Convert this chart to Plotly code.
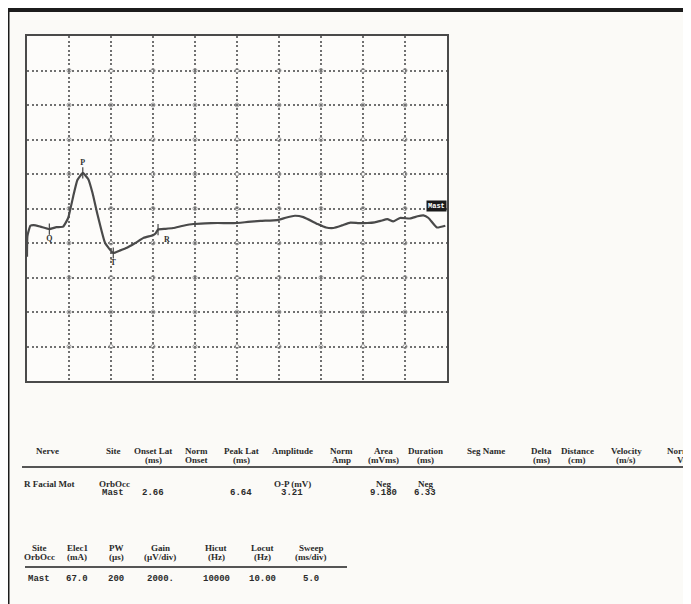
import plotly.graph_objects as go

# ---------------- data ----------------
# waveform: time (ms) and amplitude (mV); sweep 5 ms/div, gain 2 mV/div
t_ms = [0.0, 0.05, 0.4, 0.8, 1.6, 2.66, 3.5, 4.3, 4.9, 5.5, 6.0, 6.64, 7.3, 7.8,
        8.35, 9.3, 10.27, 11.0, 11.9, 12.9, 13.9, 15.0, 15.3, 15.6, 16.5, 17.4,
        18.6, 19.8, 21.2, 22.7, 24.6, 26.3, 27.8, 29.8, 30.9, 31.9, 32.9, 34.6,
        35.6, 36.5, 37.5, 38.5, 39.5, 40.5, 41.4, 42.1, 42.9, 43.6, 44.4, 45.6,
        46.5, 47.2, 47.8, 48.8, 49.8]
amp_mv = [-2.8, -1.6, -1.0, -0.96, -1.05, -1.19, -1.08, -1.05, -0.55, 0.7, 1.65,
          2.06, 1.7, 0.9, -0.26, -2.0, -2.58, -2.45, -2.28, -2.0, -1.7, -1.55,
          -1.45, -1.22, -1.18, -1.13, -1.0, -0.9, -0.86, -0.84, -0.85, -0.78,
          -0.72, -0.67, -0.52, -0.42, -0.5, -0.9, -1.1, -1.13, -0.98, -0.82,
          -0.85, -0.84, -0.8, -0.72, -0.62, -0.75, -0.55, -0.58, -0.45, -0.4,
          -0.55, -1.1, -1.0]

marker_names = ["Q", "P", "T", "R"]
marker_t = [2.66, 6.64, 10.27, 15.6]
marker_v = [-1.19, 2.06, -2.58, -1.22]

# table 1
t1_headers = [("Nerve", ""), ("Site", ""), ("Onset Lat", "(ms)"), ("Norm", "Onset"),
              ("Peak Lat", "(ms)"), ("Amplitude", ""), ("Norm", "Amp"),
              ("Area", "(mVms)"), ("Duration", "(ms)"), ("Seg Name", ""),
              ("Delta", "(ms)"), ("Distance", "(cm)"), ("Velocity", "(m/s)"),
              ("Norm", "Vel")]
t1_row1 = ["R Facial Mot", "OrbOcc", "", "", "", "O-P (mV)", "", "Neg", "Neg"]
t1_row2 = ["", "Mast", "2.66", "", "6.64", "3.21", "", "9.180", "6.33"]

# table 2
t2_headers = [("Site", "OrbOcc"), ("Elec1", "(mA)"), ("PW", "(µs)"),
              ("Gain", "(µV/div)"), ("Hicut", "(Hz)"), ("Locut", "(Hz)"),
              ("Sweep", "(ms/div)")]
t2_row = ["Mast", "67.0", "200", "2000.", "10000", "10.00", "5.0"]

# ---------------- layout helpers ----------------
OFF = 8                      # page body margin
W, H = 691 - OFF, 604 - OFF
L, R, T, B = 27, 447, 36, 381  # plot box in page pixels


def px(x, y):
    return (x - L) / (R - L), 1 - (y - T) / (B - T)


fig = go.Figure()

# grid intersection circles
gx = [5 * i for i in range(1, 10)]
gy = [-8 + 2 * j for j in range(9)]
fig.add_trace(go.Scatter(
    x=[a for a in gx for b in gy], y=[b for a in gx for b in gy],
    mode="markers", hoverinfo="skip",
    marker=dict(symbol="circle-open", size=4, color="#999", line=dict(width=1))))

fig.add_trace(go.Scatter(x=t_ms, y=amp_mv, mode="lines",
                         line=dict(color="#4a4a4a", width=2.2, shape="spline", smoothing=0.4),
                         hoverinfo="skip"))

fig.add_trace(go.Scatter(
    x=marker_t, y=marker_v, mode="markers+text",
    text=["<b>%s</b>" % s for s in marker_names],
    textposition=["bottom center", "top center", "bottom center", "bottom right"],
    textfont=dict(family="Liberation Serif", size=8, color="#333"),
    marker=dict(symbol="line-ns", size=8, color="#444", line=dict(width=1.2, color="#444")),
    hoverinfo="skip"))

ann = []
ann.append(dict(x=50, y=0.15, xref="x", yref="y", xanchor="right", yanchor="middle",
                text="<b>Mast</b>", showarrow=False, bgcolor="#1a1a1a",
                font=dict(family="Liberation Mono", size=7, color="white"), borderpad=1))

serif = dict(family="Liberation Serif", size=9, color="#2a2a2a")
mono = dict(family="Liberation Mono", size=9, color="#2a2a2a")


def text(x, y, s, font, anchor="center"):
    xp, yp = px(x, y)
    ann.append(dict(x=xp, y=yp, xref="paper", yref="paper", text=s, showarrow=False,
                    xanchor=anchor, yanchor="middle", font=font))


# table 1 geometry
t1_x = [47, 113, 153, 196, 241, 292, 341, 383, 425, 486, 541, 577, 626, 0]
h1_y, h2_y, rule1_y, r1_y, r2_y = 451, 460, 467, 484, 493
for i, ((a, b), x) in enumerate(zip(t1_headers, t1_x)):
    if i == len(t1_headers) - 1:
        text(692, h1_y, "<b>%s</b>" % a, serif, "right")
        text(692, h2_y, "<b>%s</b>" % b, serif, "right")
        continue
    text(x, h1_y, "<b>%s</b>" % a, serif)
    if b:
        text(x, h2_y, "<b>%s</b>" % b, serif)
text(22, r1_y, "<b>R Facial Mot</b>", serif, "left")
text(97, r1_y, "<b>OrbOcc</b>", serif, "left")
for s, x in zip(t1_row1[2:], t1_x[2:]):
    if s:
        text(x, r1_y, "<b>%s</b>" % s, serif)
text(100, r2_y, "<b>Mast</b>", mono, "left")
for s, x in zip(t1_row2[2:], t1_x[2:]):
    if s:
        text(x, r2_y, "<b>%s</b>" % s, mono)

# table 2 geometry
t2_x = [39, 77, 116, 160, 216, 262, 311]
s1_y, s2_y, rule2_y, sr_y = 548, 557, 567, 579
for (a, b), x in zip(t2_headers, t2_x):
    text(x, s1_y, "<b>%s</b>" % a, serif)
    text(x, s2_y, "<b>%s</b>" % b, serif)
for s, x in zip(t2_row, t2_x):
    text(x, sr_y, "<b>%s</b>" % s, mono)

shapes = []


def rect(x0, y0, x1, y1, color):
    a0, b0 = px(x0, y0)
    a1, b1 = px(x1, y1)
    shapes.append(dict(type="rect", xref="paper", yref="paper", x0=a0, y0=b1, x1=a1, y1=b0,
                       fillcolor=color, line=dict(width=0), layer="above"))


def hline(x0, x1, y, color, w):
    a0, b = px(x0, y)
    a1, _ = px(x1, y)
    shapes.append(dict(type="line", xref="paper", yref="paper", x0=a0, x1=a1, y0=b, y1=b,
                       line=dict(color=color, width=w)))


rect(0, 0, 700, 12, "#1c1c1c")
rect(0, 0, 9.5, 610, "#1c1c1c")
hline(22, 700, rule1_y, "#555", 2)
hline(25, 347, rule2_y, "#555", 2)

grid = dict(showgrid=True, gridcolor="#707070", griddash="2px,2.5px", gridwidth=1.6,
            showticklabels=False, ticks="", zeroline=False, showline=True, mirror=True,
            linecolor="#4a4a4a", linewidth=2)
fig.update_layout(
    width=W, height=H,
    margin=dict(l=L - OFF, r=W - (R - OFF), t=T - OFF, b=H - (B - OFF)),
    paper_bgcolor="#fbfaf7", plot_bgcolor="#fdfcfa", showlegend=False,
    annotations=ann, shapes=shapes,
    xaxis=dict(range=[0, 50], dtick=5, **grid),
    yaxis=dict(range=[-10, 10], dtick=2, **grid),
)

fig.write_html("out.html")
